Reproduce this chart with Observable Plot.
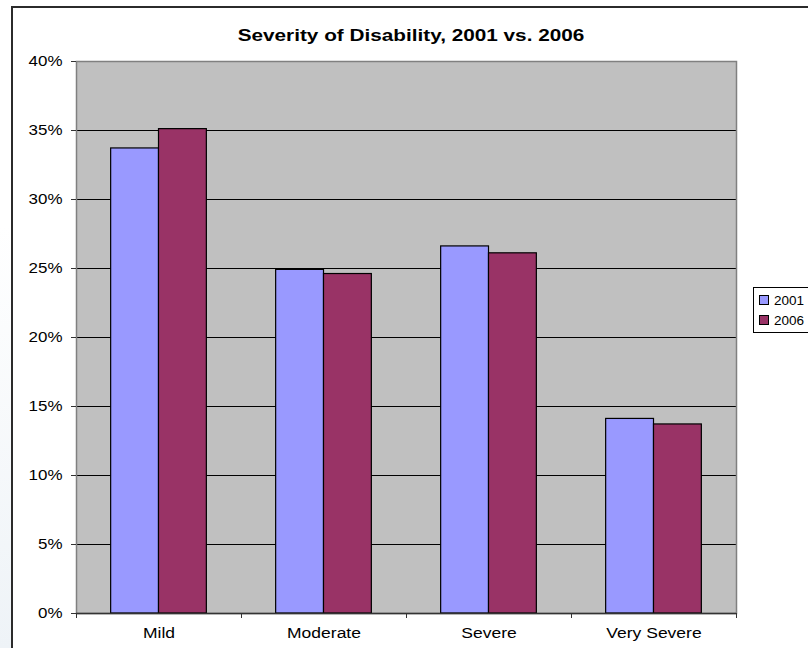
<!DOCTYPE html>
<html>
<head>
<meta charset="utf-8">
<script src="https://cdn.jsdelivr.net/npm/d3@7"></script>
<script src="https://cdn.jsdelivr.net/npm/@observablehq/plot@0.6"></script>
<style>
  html, body { margin: 0; padding: 0; width: 808px; height: 648px; overflow: hidden; }
  body { background: linear-gradient(to bottom, #ffffff 0%, #ffffff 35%, #eef3f7 100%); font-family: "Liberation Sans", Arial, sans-serif; position: relative; }
  #chartbox { position: absolute; left: 11px; top: 6px; width: 840px; height: 700px; border: 2px solid #2b2b2b; background: #fff; }
  #title { position: absolute; left: 0; top: 0; width: 808px; height: 50px; }
  #title span { position: absolute; left: 411px; top: 26px; transform: translateX(-50%) scaleX(1.22); white-space: nowrap; font-weight: bold; font-size: 17px; line-height: 20px; color: #000; }
  #plot { position: absolute; left: 0; top: 50px; }
  #legend { position: absolute; left: 753px; top: 287px; width: 80px; height: 44px; border: 1px solid #000; background: #fff; }
  .item { position: absolute; left: 5px; font-size: 13.5px; line-height: 16px; color: #000; white-space: nowrap; }
  .sw { display: inline-block; width: 8px; height: 8px; border: 1px solid #000; vertical-align: 0px; margin-right: 5px; }
</style>
</head>
<body>
<div id="chartbox"></div>
<div id="title"><span>Severity of Disability, 2001 vs. 2006</span></div>
<div id="plot"></div>
<div id="legend"></div>
<script>
// ---- data ----
const categories = ["Mild", "Moderate", "Severe", "Very Severe"];
const seriesNames = ["2001", "2006"];
const values2001 = [0.337, 0.249, 0.266, 0.141];
const values2006 = [0.351, 0.246, 0.261, 0.137];
const yTicks = [0, 0.05, 0.10, 0.15, 0.20, 0.25, 0.30, 0.35, 0.40];
const gridTicks = [0.05, 0.10, 0.15, 0.20, 0.25, 0.30, 0.35];
const colors = ["#9999FF", "#993366"];

const rows2001 = categories.map((c, i) => ({category: c, series: "2001", value: values2001[i]}));
const rows2006 = categories.map((c, i) => ({category: c, series: "2006", value: values2006[i]}));

// ---- layout ----
const W = 808, H = 598;
const mL = 76, mR = 72, mT = 11, mB = 35;
const bw = (W - mL - mR) / categories.length; // band width
const barW = bw * 0.29;                        // each bar width
const outer = (bw - 2 * barW) / 2;

const plot = Plot.plot({
  width: W,
  height: H,
  marginLeft: mL,
  marginRight: mR,
  marginTop: mT,
  marginBottom: mB,
  style: {fontFamily: "'Liberation Sans', Arial, sans-serif", fontSize: "15px", color: "#000", background: "transparent", overflow: "visible"},
  x: {type: "band", domain: categories, padding: 0, axis: null},
  y: {domain: [0, 0.4], axis: null},
  marks: [
    Plot.frame({fill: "#C0C0C0", stroke: null}),
    Plot.gridY(gridTicks, {stroke: "#000", strokeOpacity: 1, strokeWidth: 1}),
    Plot.frame({stroke: "#808080", strokeWidth: 1.5, fill: "none"}),
    Plot.barY(rows2001, {x: "category", y: "value", fill: colors[0], stroke: "#000", strokeWidth: 1.2,
      insetLeft: outer, insetRight: outer + barW}),
    Plot.barY(rows2006, {x: "category", y: "value", fill: colors[1], stroke: "#000", strokeWidth: 1.2,
      insetLeft: outer + barW, insetRight: outer}),
    Plot.ruleY([0], {stroke: "#333", strokeWidth: 1.5}),
    Plot.axisY(yTicks, {label: null, tickSize: 5, tickPadding: 9, stroke: "#333", tickFormat: d3.format(".0%"), fontSize: 15}),
    Plot.axisX(categories, {label: null, tickSize: 0, tickPadding: 13, fontSize: 15.5}),
    Plot.axisX(categories, {label: null, tickSize: 5, tickFormat: null, stroke: "#333", dx: -bw / 2}),
    Plot.axisX([categories[categories.length - 1]], {label: null, tickSize: 5, tickFormat: null, stroke: "#333", dx: bw / 2})
  ]
});
document.getElementById("plot").appendChild(plot);

// widen tick labels slightly, as in the reference rendering
d3.select(plot).selectAll("g[aria-label$='tick label'] text").each(function () {
  const t = this.getAttribute("transform") || "";
  this.setAttribute("transform", t + " scale(1.13,1)");
});

// ---- legend ----
const legend = document.getElementById("legend");
seriesNames.forEach((s, i) => {
  const it = document.createElement("div");
  it.className = "item";
  it.style.top = (5 + i * 20) + "px";
  it.innerHTML = `<span class="sw" style="background:${colors[i]}"></span><span>${s}</span>`;
  legend.appendChild(it);
});
</script>
</body>
</html>
